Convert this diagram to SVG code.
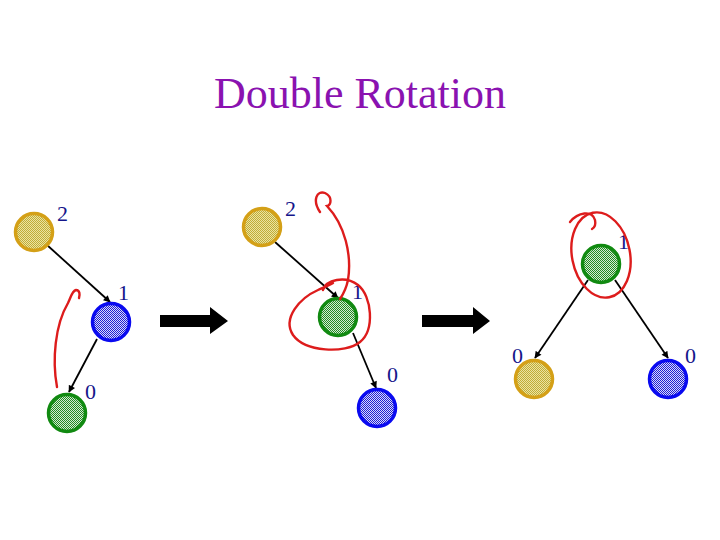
<svg xmlns="http://www.w3.org/2000/svg" width="720" height="540" viewBox="0 0 720 540">
<style>
.lbl{font-family:"Liberation Serif","Times New Roman",serif;font-size:22px;fill:#15158a}
.title{font-family:"Liberation Serif","Times New Roman",serif;font-size:44px;fill:#8A12B0}
.edge{stroke:#000;stroke-width:1.8;fill:none;marker-end:url(#ah)}
.red{stroke:#dd1c1c;stroke-width:2.4;fill:none;stroke-linecap:round}
.yel{fill:url(#py);stroke:#D4A017;stroke-width:3.5}
.blu{fill:url(#pb);stroke:#0a0af0;stroke-width:3.5}
.grn{fill:url(#pg);stroke:#118a11;stroke-width:3.5}
.big{fill:#000}
</style>
<defs>
<pattern id="py" width="2" height="2" patternUnits="userSpaceOnUse"><rect width="2" height="2" fill="#ece4a0"/><rect width="1" height="1" fill="#c0ac38"/><rect x="1" y="1" width="1" height="1" fill="#c0ac38"/></pattern>
<pattern id="pb" width="2" height="2" patternUnits="userSpaceOnUse"><rect width="2" height="2" fill="#d8d8ff"/><rect width="1" height="1" fill="#2020d0"/><rect x="1" y="1" width="1" height="1" fill="#2020d0"/></pattern>
<pattern id="pg" width="2" height="2" patternUnits="userSpaceOnUse"><rect width="2" height="2" fill="#d4ecd4"/><rect width="1" height="1" fill="#238a23"/><rect x="1" y="1" width="1" height="1" fill="#238a23"/></pattern>
<marker id="ah" viewBox="0 0 10 10" refX="9" refY="5" markerWidth="8" markerHeight="7" orient="auto" markerUnits="userSpaceOnUse"><path d="M0 0 L10 5 L0 10 z" fill="#000"/></marker>
</defs>
<rect width="720" height="540" fill="#fff"/>
<text class="title" x="360" y="108" text-anchor="middle">Double Rotation</text>

<g id="connectors">
<line class="edge" x1="47" y1="245" x2="110" y2="302"/>
<line class="edge" x1="97" y1="339" x2="69" y2="392"/>
<line class="edge" x1="275" y1="242" x2="338" y2="298"/>
<line class="edge" x1="353" y1="333" x2="376" y2="388"/>
<line class="edge" x1="588" y1="280" x2="535" y2="358"/>
<line class="edge" x1="615" y1="280" x2="668" y2="358"/>
</g>

<g id="t1-y"><circle class="yel" cx="34" cy="232" r="18.5"/><text class="lbl" x="57" y="221">2</text></g>
<g id="t1-b"><circle class="blu" cx="111" cy="322" r="18.5"/><text class="lbl" x="118" y="300">1</text></g>
<g id="t1-g"><circle class="grn" cx="67" cy="413" r="18.5"/><text class="lbl" x="85" y="399">0</text></g>

<g id="t2-y"><circle class="yel" cx="262" cy="227" r="18.5"/><text class="lbl" x="285" y="216">2</text></g>
<g id="t2-g"><circle class="grn" cx="338" cy="317" r="18.5"/><text class="lbl" x="352" y="299">1</text></g>
<g id="t2-b"><circle class="blu" cx="377" cy="408" r="18.5"/><text class="lbl" x="387" y="382">0</text></g>

<g id="t3-g"><circle class="grn" cx="601" cy="264" r="18.5"/><text class="lbl" x="618" y="249">1</text></g>
<g id="t3-y"><circle class="yel" cx="534" cy="379" r="18.5"/><text class="lbl" x="512" y="363">0</text></g>
<g id="t3-b"><circle class="blu" cx="668" cy="379" r="18.5"/><text class="lbl" x="685" y="363">0</text></g>

<g id="big-arrows">
<polygon class="big" points="160,315 210,315 210,307 228,321 210,334 210,327 160,327"/>
<polygon class="big" points="422,315 473,315 473,307 490,321 473,334 473,327 422,327"/>
</g>

<g id="annotations">
<path class="red" d="M57 387 C52 360 55 325 68 303 C71 297 72 291 76 290 C80 290 80 295 79 298"/>
<path class="red" d="M320 212 C312 200 317 190 325 193 C333 197 331 205 327 206 C345 225 352 255 348 280 C346 290 342 296 340 299"/>
<path class="red" d="M323 290 C326 280 345 275 358 285 C372 296 375 330 360 342 C345 354 305 352 293 335 C282 318 300 298 318 290 C325 287 330 285 333 283"/>
<ellipse class="red" cx="601" cy="255" rx="29" ry="43" transform="rotate(-11 601 255)"/>
<path class="red" d="M570 222 C578 212 592 210 595 220 C596 225 594 228 592 229"/>
</g>
</svg>
